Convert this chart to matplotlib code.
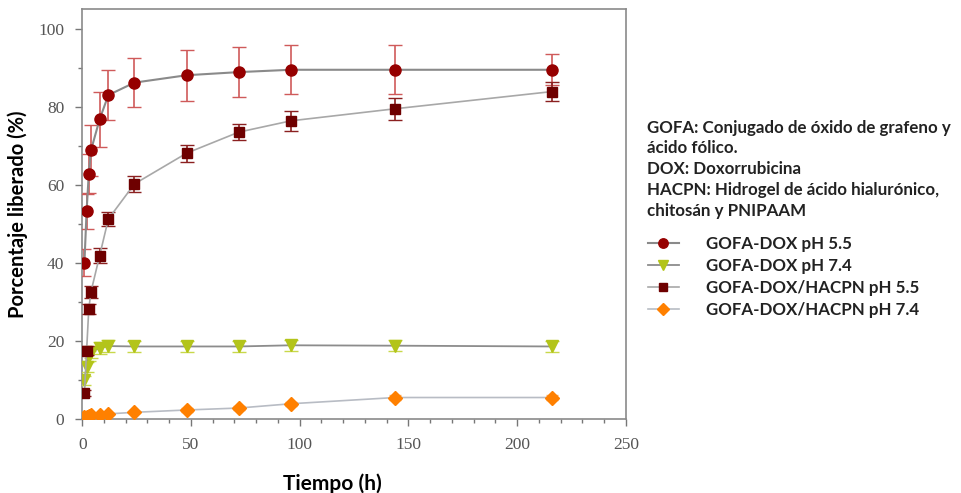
import matplotlib.pyplot as plt
from matplotlib.lines import Line2D
from matplotlib.ticker import MultipleLocator

# tiempo (h)
t = [1, 2, 3, 4, 8, 12, 24, 48, 72, 96, 144, 216]

# GOFA-DOX pH 5.5
dox55 = [40, 53.2, 62.8, 68.8, 76.8, 83, 86.2, 88.1, 88.9, 89.5, 89.5, 89.5]
dox55_err = [3.5, 4.5, 5, 6.5, 7, 6.5, 6.3, 6.5, 6.5, 6.3, 6.3, 4]

# GOFA-DOX pH 7.4
dox74 = [9.8, 13.3, 16, 17, 18.1, 18.6, 18.5, 18.5, 18.5, 18.8, 18.7, 18.5]
dox74_err = [1.2, 1.3, 1.3, 1.4, 1.5, 1.5, 1.5, 1.4, 1.5, 1.4, 1.4, 1.4]

# GOFA-DOX/HACPN pH 5.5
hac55 = [6.6, 17.4, 28.1, 32.5, 41.8, 51.2, 60.2, 68.1, 73.5, 76.4, 79.5, 83.9]
hac55_err = [0.8, 1.2, 1.2, 1.5, 2, 1.7, 2, 2.2, 2, 2.5, 2.8, 2.5]

# GOFA-DOX/HACPN pH 7.4
hac74 = [0.3, 0.5, 0.7, 0.8, 0.9, 1.2, 1.6, 2.2, 2.7, 3.8, 5.4, 5.4]
hac74_err = [0.3, 0.3, 0.3, 0.3, 0.3, 0.3, 0.3, 0.4, 0.4, 0.5, 0.6, 0.6]

labels = ["GOFA-DOX pH 5.5", "GOFA-DOX pH 7.4",
          "GOFA-DOX/HACPN pH 5.5", "GOFA-DOX/HACPN pH 7.4"]

styles = [
    dict(color='#8a8a8a', lw=1.5, marker='o', ms=8, mfc='#960000', mec='#960000'),
    dict(color='#8c8c8c', lw=1.3, marker='v', ms=8, mfc='#b3c41a', mec='#b3c41a'),
    dict(color='#a8a8a8', lw=1.2, marker='s', ms=7.5, mfc='#6e0000', mec='#6e0000'),
    dict(color='#b8bcc4', lw=1.2, marker='D', ms=7, mfc='#ff8000', mec='#ff8000'),
]

fig = plt.figure(figsize=(9.62, 4.93), dpi=100)
ax = fig.add_axes([0.0855, 0.151, 0.565, 0.830])

ax.errorbar(t, dox55, yerr=dox55_err, **styles[0],
            ecolor='#cf5a5a', elinewidth=1.2, capsize=5, zorder=4)
ax.errorbar(t, dox74, yerr=dox74_err, **styles[1],
            ecolor='#c8d84a', elinewidth=1.2, capsize=5, zorder=3)
ax.errorbar(t, hac55, yerr=hac55_err, **styles[2],
            ecolor='#8b2020', elinewidth=1.2, capsize=5, zorder=5)
ax.errorbar(t, hac74, yerr=hac74_err, **styles[3],
            ecolor='#ffb060', elinewidth=1, capsize=4, zorder=6)

ax.set_xlim(0, 250)
ax.set_ylim(0, 105)
ax.xaxis.set_major_locator(MultipleLocator(50))
ax.xaxis.set_minor_locator(MultipleLocator(10))
ax.yaxis.set_major_locator(MultipleLocator(20))
ax.yaxis.set_minor_locator(MultipleLocator(10))
for s in ax.spines.values():
    s.set_color('#8a8a8a')
    s.set_linewidth(1.2)
ax.tick_params(which='both', direction='out', color='#777777', width=1)
ax.tick_params(which='major', length=5, pad=8, labelsize=12.5, labelcolor='#555555')
ax.tick_params(which='minor', length=3)
for lab in ax.get_xticklabels() + ax.get_yticklabels():
    lab.set_family('Liberation Serif')

ax.set_xlabel("Tiempo (h)", fontsize=15, fontweight='bold', family='Lato')
ax.xaxis.set_label_coords(0.46, -0.135)
ax.set_ylabel("Porcentaje liberado (%)", fontsize=14.5, fontweight='bold', family='Lato', labelpad=7)

notes = ("GOFA: Conjugado de óxido de grafeno y\nácido fólico.\nDOX: Doxorrubicina\n"
         "HACPN: Hidrogel de ácido hialurónico,\nchitosán y PNIPAAM")
fig.text(0.673, 0.757, notes, fontsize=12.2, fontweight='bold', family='Lato',
         color='#222222', va='top', linespacing=1.36)

handles = [Line2D([], [], **st) for st in styles]
leg = fig.legend(handles, labels, loc='upper left',
                 bbox_to_anchor=(0.658, 0.552), frameon=False,
                 prop={'family': 'Lato', 'weight': 'bold', 'size': 12.2},
                 handlelength=1.8, handletextpad=1.6, labelspacing=0.36,
                 markerscale=0.85)
for txt in leg.get_texts():
    txt.set_color('#222222')

fig.savefig('out.png', dpi=100)
